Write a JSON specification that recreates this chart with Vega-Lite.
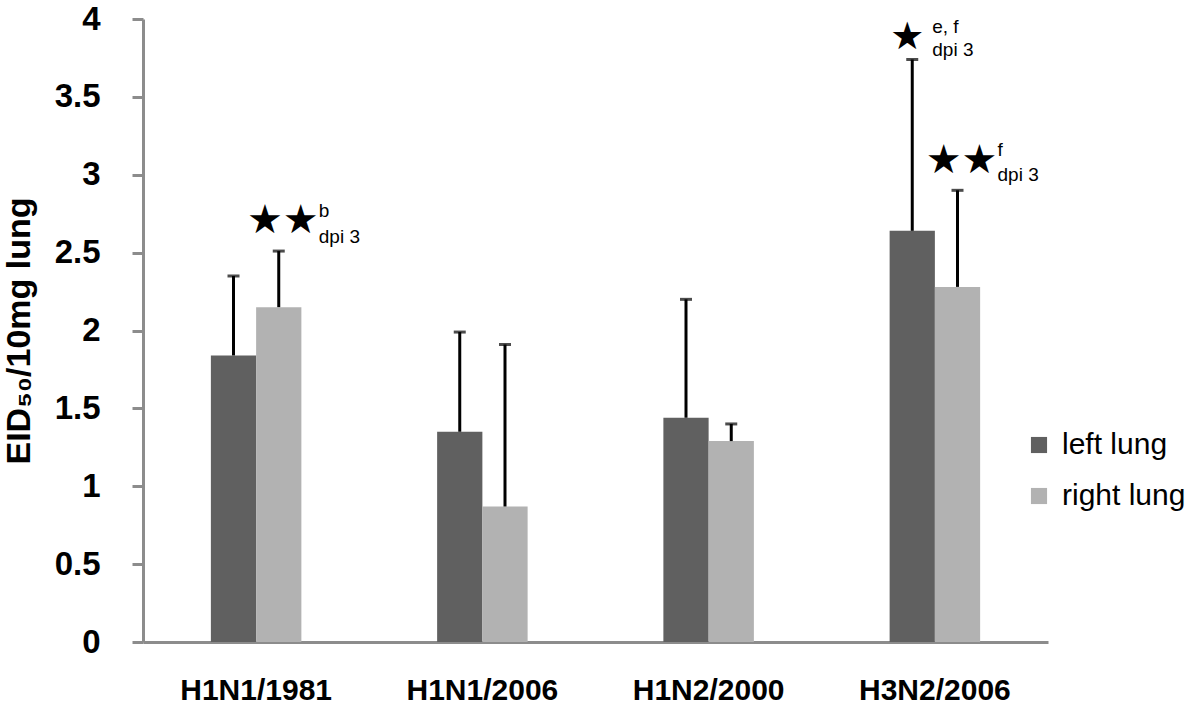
{
  "$schema": "https://vega.github.io/schema/vega-lite/v6.json",
  "autosize": {"type": "none"},
  "width": 905,
  "height": 623,
  "padding": {"left": 143, "top": 19, "right": 152, "bottom": 64},
  "background": "white",
  "config": {
    "view": {"stroke": null},
    "font": "Liberation Sans",
    "axis": {"ticks": true}
  },
  "datasets": {
    "bars": [
      {"strain": "H1N1/1981", "lung": "left lung", "value": 1.84, "upper": 2.35},
      {"strain": "H1N1/1981", "lung": "right lung", "value": 2.15, "upper": 2.51},
      {"strain": "H1N1/2006", "lung": "left lung", "value": 1.35, "upper": 1.99},
      {"strain": "H1N1/2006", "lung": "right lung", "value": 0.87, "upper": 1.91},
      {"strain": "H1N2/2000", "lung": "left lung", "value": 1.44, "upper": 2.20},
      {"strain": "H1N2/2000", "lung": "right lung", "value": 1.29, "upper": 1.40},
      {"strain": "H3N2/2006", "lung": "left lung", "value": 2.64, "upper": 3.74},
      {"strain": "H3N2/2006", "lung": "right lung", "value": 2.28, "upper": 2.90}
    ],
    "stars": [
      {"strain": "H1N1/1981", "lung": "right lung", "y": 2.70, "star": "★★", "n": 2},
      {"strain": "H3N2/2006", "lung": "left lung", "y": 3.88, "star": "★", "n": 1},
      {"strain": "H3N2/2006", "lung": "right lung", "y": 3.09, "star": "★★", "n": 2}
    ],
    "notes": [
      {"strain": "H1N1/1981", "lung": "right lung", "y": 2.77, "note": "b", "n": 2},
      {"strain": "H1N1/1981", "lung": "right lung", "y": 2.60, "note": "dpi 3", "n": 2},
      {"strain": "H3N2/2006", "lung": "left lung", "y": 3.95, "note": "e, f", "n": 1},
      {"strain": "H3N2/2006", "lung": "left lung", "y": 3.80, "note": "dpi 3", "n": 1},
      {"strain": "H3N2/2006", "lung": "right lung", "y": 3.16, "note": "f", "n": 2},
      {"strain": "H3N2/2006", "lung": "right lung", "y": 3.00, "note": "dpi 3", "n": 2}
    ]
  },
  "encoding": {
    "x": {
      "field": "strain",
      "type": "nominal",
      "sort": ["H1N1/1981", "H1N1/2006", "H1N2/2000", "H3N2/2006"],
      "scale": {"paddingInner": 0.6, "paddingOuter": 0.3},
      "axis": {
        "title": null,
        "labelAngle": 0,
        "ticks": false,
        "domainColor": "#8c8c8c",
        "domainWidth": 3,
        "labelFont": "Liberation Sans",
        "labelFontWeight": "bold",
        "labelFontSize": 30,
        "labelColor": "black",
        "labelPadding": 33
      }
    },
    "xOffset": {
      "field": "lung",
      "type": "nominal",
      "sort": ["left lung", "right lung"],
      "scale": {"paddingInner": 0, "paddingOuter": 0}
    },
    "y": {
      "field": "value",
      "type": "quantitative",
      "scale": {"domain": [0, 4], "nice": false},
      "axis": {
        "title": "EID₅₀/10mg lung",
        "titleFont": "Liberation Sans",
        "titleFontWeight": "bold",
        "titleFontSize": 34,
        "titleColor": "black",
        "titlePadding": 18,
        "values": [0, 0.5, 1, 1.5, 2, 2.5, 3, 3.5, 4],
        "format": "~g",
        "grid": false,
        "domainColor": "#8c8c8c",
        "domainWidth": 3,
        "ticks": true,
        "tickColor": "#8c8c8c",
        "tickWidth": 3,
        "tickSize": 11,
        "labelFont": "Liberation Sans",
        "labelFontWeight": "bold",
        "labelFontSize": 33,
        "labelColor": "black",
        "labelPadding": 32
      }
    }
  },
  "layer": [
    {
      "data": {"name": "bars"},
      "mark": {"type": "bar"},
      "encoding": {
        "color": {
          "field": "lung",
          "type": "nominal",
          "scale": {"domain": ["left lung", "right lung"], "range": ["#606060", "#b2b2b2"]},
          "legend": {
            "title": null,
            "orient": "none",
            "legendX": 881,
            "legendY": 411,
            "symbolType": "square",
            "symbolSize": 260,
            "symbolStrokeWidth": 0,
            "labelFont": "Liberation Sans",
            "labelFontSize": 30,
            "labelColor": "black",
            "labelOffset": 8,
            "rowPadding": 21
          }
        }
      }
    },
    {
      "data": {"name": "bars"},
      "mark": {"type": "rule", "color": "black", "strokeWidth": 3},
      "encoding": {
        "y2": {"field": "upper"}
      }
    },
    {
      "data": {"name": "bars"},
      "mark": {"type": "tick", "color": "black", "thickness": 3, "size": 12, "orient": "horizontal"},
      "encoding": {
        "y": {"field": "upper", "type": "quantitative"}
      }
    },
    {
      "data": {"name": "stars"},
      "transform": [{"filter": "datum.n == 2"}],
      "mark": {"type": "text", "font": "DejaVu Sans", "fontSize": 40, "align": "center", "baseline": "middle", "dx": 4, "color": "black"},
      "encoding": {
        "y": {"field": "y", "type": "quantitative"},
        "text": {"field": "star"}
      }
    },
    {
      "data": {"name": "stars"},
      "transform": [{"filter": "datum.n == 1"}],
      "mark": {"type": "text", "font": "DejaVu Sans", "fontSize": 38, "align": "center", "baseline": "middle", "dx": -5, "color": "black"},
      "encoding": {
        "y": {"field": "y", "type": "quantitative"},
        "text": {"field": "star"}
      }
    },
    {
      "data": {"name": "notes"},
      "transform": [{"filter": "datum.n == 2"}],
      "mark": {"type": "text", "font": "Liberation Sans", "fontSize": 19, "align": "left", "baseline": "middle", "dx": 40, "color": "black"},
      "encoding": {
        "y": {"field": "y", "type": "quantitative"},
        "text": {"field": "note"}
      }
    },
    {
      "data": {"name": "notes"},
      "transform": [{"filter": "datum.n == 1"}],
      "mark": {"type": "text", "font": "Liberation Sans", "fontSize": 19, "align": "left", "baseline": "middle", "dx": 20, "color": "black"},
      "encoding": {
        "y": {"field": "y", "type": "quantitative"},
        "text": {"field": "note"}
      }
    }
  ]
}
